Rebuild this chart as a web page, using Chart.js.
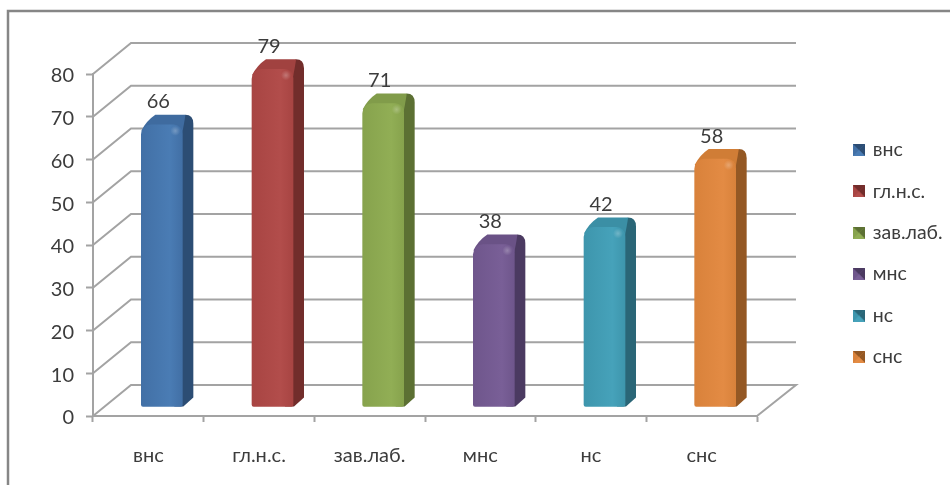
<!DOCTYPE html>
<html><head><meta charset="utf-8">
<style>html,body{margin:0;padding:0;background:#fff}#w{width:950px;height:485px}</style>
<script src="https://cdn.jsdelivr.net/npm/chart.js@4"></script></head>
<body><div id="w"><canvas id="c" width="950" height="485"></canvas></div>
<script>
const categories = ['внс','гл.н.с.','зав.лаб.','мнс','нс','снс'];
const values = [66,79,71,38,42,58];
const yTicks = [0,10,20,30,40,50,60,70,80];
const frontColors = ['#4270A6','#A84543','#87A34D','#6F568C','#3E96AD','#D9823B'];
const lightColors = ['#4A7CB4','#B24D4B','#91AE55','#795F97','#46A2BA','#E38B44'];
const topColors   = ['#3F6B9F','#A14240','#819C4A','#6A5286','#3B8FA5','#D07D36'];
const sideColors  = ['#2C4D74','#722D2B','#5C7033','#4B3A61','#2A6677','#945824'];
const FONT = 'Lato, "Open Sans", sans-serif';
const TEXT = '#3c3c3c', LINE = '#a3a3a3';
const DEPTH_X = 38, DEPTH_Y = 31;           // wall depth
const BAR_DX = 13.5, BAR_DY = -9;           // bar sits inside the floor
const BAR_SX = 11, BAR_SY = 10;             // bar extrusion

function legendMark(i){
  const s = 12, cv = document.createElement('canvas'); cv.width = s; cv.height = s;
  const g = cv.getContext('2d');
  g.fillStyle = frontColors[i]; g.fillRect(0,0,s,s);
  const tri = (c,p)=>{g.fillStyle=c;g.beginPath();g.moveTo(p[0],p[1]);g.lineTo(p[2],p[3]);g.lineTo(p[4],p[5]);g.closePath();g.fill();};
  tri(sideColors[i],[s,0,s,s,s/2,s/2]);
  tri(sideColors[i],[0,0,s,0,s/2,s/2]);
  tri(lightColors[i],[0,s,s,s,s/2,s/2]);
  return cv;
}

const threeD = {
  id:'threeD',
  beforeDraw(chart){
    const {ctx} = chart;
    ctx.save(); ctx.strokeStyle='#868686'; ctx.lineWidth=2.5;
    ctx.beginPath(); ctx.moveTo(8,485); ctx.lineTo(8,11); ctx.lineTo(950,11); ctx.stroke(); ctx.restore();
  },
  afterLayout(chart){
    const l = chart.legend;
    l.left = 833.1; l.right = 950; l.top = 118.3; l.bottom = 480;
  },
  beforeDatasetsDraw(chart){
    const {ctx, scales:{x,y}, chartArea:a} = chart;
    ctx.save();
    ctx.strokeStyle = LINE; ctx.lineWidth = 2;
    yTicks.forEach(v=>{
      const py = y.getPixelForValue(v);
      ctx.beginPath(); ctx.moveTo(a.left,py); ctx.lineTo(a.left+DEPTH_X,py-DEPTH_Y);
      ctx.lineTo(a.right+DEPTH_X+1,py-DEPTH_Y);
      if(v===0) ctx.lineTo(a.right,py);
      ctx.stroke();
    });
    ctx.restore();
    const meta = chart.getDatasetMeta(0);
    ctx.save();
    ctx.translate(BAR_DX,BAR_DY);
    meta.data.forEach((el,i)=>{
      const L = el.x-el.width/2, R = el.x+el.width/2, T = el.y, B = el.base;
      ctx.fillStyle = sideColors[i];
      ctx.beginPath();
      ctx.moveTo(R-8,T);
      ctx.lineTo(R+BAR_SX-8,T-BAR_SY);
      ctx.quadraticCurveTo(R+BAR_SX,T-BAR_SY,R+BAR_SX,T-BAR_SY+9);
      ctx.lineTo(R+BAR_SX,B-9);
      ctx.lineTo(R+1,B);
      ctx.lineTo(R-8,B);
      ctx.closePath(); ctx.fill();
      ctx.fillStyle = topColors[i];
      ctx.beginPath();
      ctx.moveTo(L,T+6);
      ctx.quadraticCurveTo(L+5,T-4,L+14,T-BAR_SY);
      ctx.lineTo(R+BAR_SX-8,T-BAR_SY);
      ctx.quadraticCurveTo(R+3,T-BAR_SY+2,R,T+8);
      ctx.closePath(); ctx.fill();
    });
  },
  afterDatasetsDraw(chart){
    const {ctx} = chart;
    const meta = chart.getDatasetMeta(0);
    meta.data.forEach((el,i)=>{
      const R = el.x+el.width/2, T = el.y;
      const g = ctx.createRadialGradient(R-7,T+6,0,R-7,T+6,5);
      g.addColorStop(0,'rgba(255,255,255,.25)'); g.addColorStop(1,'rgba(255,255,255,0)');
      ctx.fillStyle = g; ctx.fillRect(R-12,T+1,10,10);
    });
    ctx.restore();
    ctx.save();
    ctx.fillStyle = TEXT; ctx.font = '20px '+FONT; ctx.textAlign='center'; ctx.textBaseline='middle';
    meta.data.forEach((el,i)=>{
      ctx.fillText(String(values[i]), el.x+10, el.y+BAR_DY-23);
    });
    ctx.restore();
  }
};

function frontFill(c){
  const ch = c.chart, sx = ch.scales && ch.scales.x;
  if(!sx || c.dataIndex===undefined) return frontColors[0];
  const i = c.dataIndex, cx = sx.getPixelForValue(i);
  const g = ch.ctx.createLinearGradient(cx-20,0,cx+20,0);
  g.addColorStop(0,frontColors[i]); g.addColorStop(.7,lightColors[i]); g.addColorStop(1,frontColors[i]);
  return g;
}

new Chart(document.getElementById('c'),{
  type:'bar',
  data:{labels:categories,datasets:[{data:values,backgroundColor:frontFill,barThickness:41,clip:false,
    borderSkipped:false,borderWidth:0,
    borderRadius:{topLeft:10,topRight:9,bottomLeft:2,bottomRight:2}}]},
  plugins:[threeD],
  options:{
    responsive:false,animation:false,devicePixelRatio:1,
    layout:{padding:{top:74,right:193,bottom:0,left:0}},
    plugins:{
      tooltip:{enabled:false},
      legend:{position:'chartArea',align:'start',
        labels:{color:TEXT,font:{family:FONT,size:19.5},padding:21.9,boxWidth:12,boxHeight:12,usePointStyle:true,pointStyleWidth:8,
          generateLabels:()=>categories.map((t,i)=>({text:t,fontColor:TEXT,pointStyle:legendMark(i),fillStyle:frontColors[i],strokeStyle:frontColors[i],lineWidth:0,hidden:false,index:i}))}}
    },
    scales:{
      x:{offset:true,
        afterFit(s){s.height=69;},
        grid:{drawOnChartArea:false,drawTicks:true,tickLength:6,tickColor:LINE,tickWidth:2},
        border:{display:true,color:LINE,width:2},
        ticks:{color:TEXT,font:{family:FONT,size:20},padding:22,maxRotation:0}},
      y:{min:0,max:80,
        afterBuildTicks(s){s.ticks=yTicks.map(v=>({value:v}));},
        afterFit(s){s.width=93;},
        grid:{drawOnChartArea:false,drawTicks:true,tickLength:7,tickColor:LINE,tickWidth:2},
        border:{display:true,color:LINE,width:2},
        ticks:{color:TEXT,font:{family:FONT,size:20},padding:12,labelOffset:2}}
    }
  }
});
</script></body></html>
